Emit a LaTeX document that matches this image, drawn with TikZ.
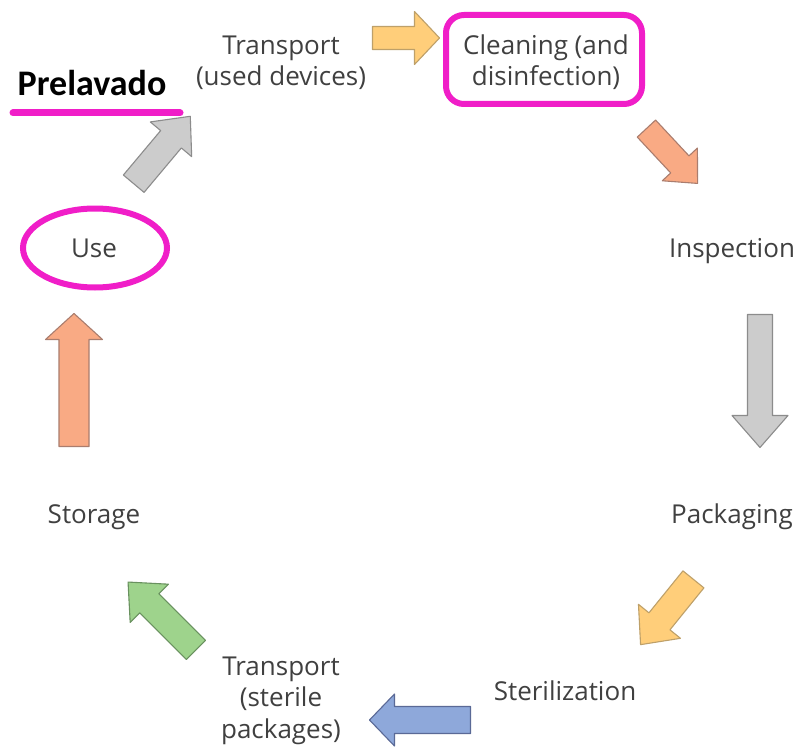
\documentclass[tikz,border=0pt]{standalone}
\usepackage{fontspec}
\setmainfont{Open Sans}
\newfontfamily\prelfont{Carlito}
\definecolor{mag}{RGB}{240,30,200}
\definecolor{txt}{RGB}{64,64,64}
\definecolor{yelF}{RGB}{255,206,122}\definecolor{yelD}{RGB}{190,160,105}
\definecolor{salF}{RGB}{249,170,132}\definecolor{salD}{RGB}{170,125,110}
\definecolor{grF}{RGB}{204,204,204}\definecolor{grD}{RGB}{140,140,140}
\definecolor{bluF}{RGB}{142,168,218}\definecolor{bluD}{RGB}{90,105,150}
\definecolor{grnF}{RGB}{158,211,140}\definecolor{grnD}{RGB}{105,145,95}
\tikzset{
  pics/barrow/.style n args={4}{code={
    \path[pic actions] (-#1/2,-#2/2) -- (#1/2-#4,-#2/2) -- (#1/2-#4,-#3/2) -- (#1/2,0)
      -- (#1/2-#4,#3/2) -- (#1/2-#4,#2/2) -- (-#1/2,#2/2) -- cycle;
  }},
  arr/.style={line width=1.1pt, line join=round},
  lbl/.style={text=txt, font=\fontsize{26}{31.5}\selectfont, align=center, inner sep=0pt, anchor=base},
  hl/.style={draw=mag, line width=6pt}
}
\begin{document}
\begin{tikzpicture}[x=1pt,y=-1pt]
\useasboundingbox[fill=white] (0,0) rectangle (798,749);

% labels (multi-line nodes: base = last line)
\node[lbl] (tu) at (281,86) {Transport\\(used devices)};
\node[lbl] (cl) at (546,86) {Cleaning (and\\disinfection)};
\node[lbl] (in) at (732,257) {Inspection};
\node[lbl] (pk) at (732,523) {Packaging};
\node[lbl] (st) at (565,700) {Sterilization};
\node[lbl] (ts) at (281,738) {Transport\\(sterile\\packages)};
\node[lbl] (sg) at (94,523) {Storage};
\node[lbl] (us) at (94,257) {Use};
\node[inner sep=0pt, anchor=base, font=\prelfont\bfseries\fontsize{36}{40}\selectfont] (pr) at (92,96) {Prelavado};

% block arrows
\pic[arr, draw=yelD, fill=yelF, rotate=0] (a1) at (406,38) {barrow={67}{23}{53}{25}};
\pic[arr, draw=salD, fill=salF, rotate=-47] (a2) at (672,156) {barrow={75}{25}{48}{26}};
\pic[arr, draw=grD, fill=grF, rotate=-90] (a3) at (760,381) {barrow={133}{25}{56}{32}};
\pic[arr, draw=yelD, fill=yelF, rotate=-129] (a4) at (667,612) {barrow={84}{27}{54}{30}};
\pic[arr, draw=bluD, fill=bluF, rotate=180] (a5) at (420,720) {barrow={101}{27}{52}{25}};
\pic[arr, draw=grnD, fill=grnF, rotate=135] (a6) at (162,616) {barrow={96}{27}{54}{30}};
\pic[arr, draw=salD, fill=salF, rotate=90] (a7) at (74,380) {barrow={133}{30}{57}{26}};
\pic[arr, draw=grD, fill=grF, rotate=50] (a8) at (162,150) {barrow={88}{27}{54}{30}};

% highlights
\draw[hl, rounded corners=18pt] (446,15) rectangle (642,104);
\draw[hl] (95,248) ellipse [x radius=72, y radius=39.5];
\draw[hl, line width=7pt, line cap=round] (13,113) -- (180,113);
\end{tikzpicture}
\end{document}
